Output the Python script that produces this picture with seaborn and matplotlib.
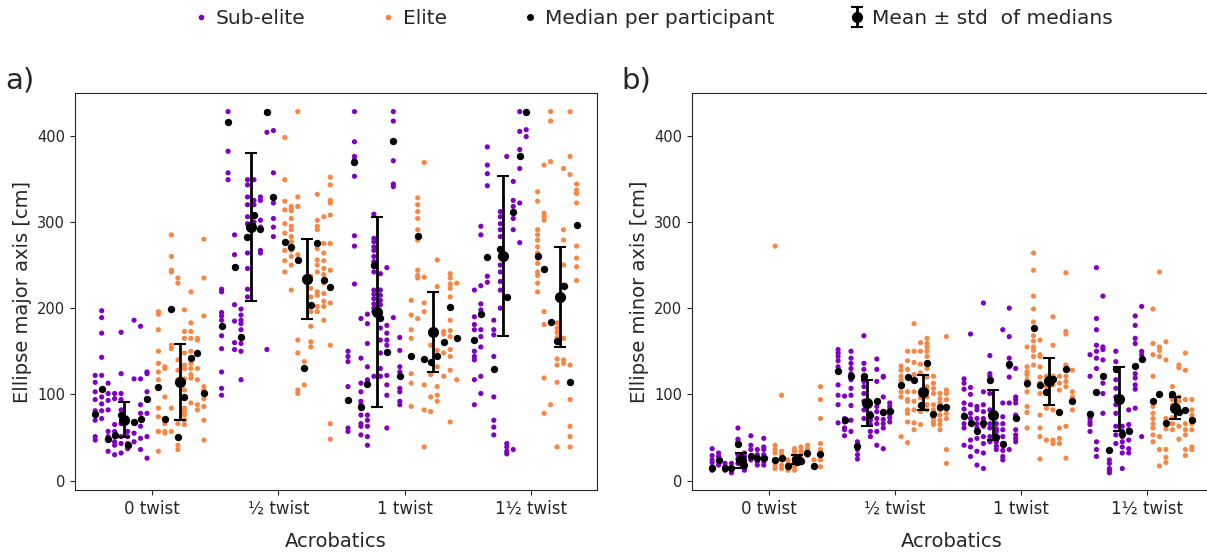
import numpy as np
import pandas as pd
import matplotlib
matplotlib.use("Agg")
import matplotlib.pyplot as plt
from matplotlib.lines import Line2D
import seaborn as sns

# categories
acrobatics = ["0 twist", "\u00bd twist", "1 twist", "1\u00bd twist"]

# ellipse major axis [cm] - trials per participant, per acrobatic
major_sub = [
    [[122, 114, 103, 94, 81, 70, 51, 47], [197, 189, 171, 143, 122, 97, 89, 81, 72],
     [113, 101, 93, 82, 57, 51, 34], [101, 95, 65, 57, 51, 45, 41, 30],
     [172, 124, 101, 94, 82, 76, 66, 51, 43, 32], [57, 51, 43, 37],
     [186, 118, 68, 55, 45], [179, 118, 88, 78, 63, 49, 36], [126, 124, 103, 95, 78, 51, 26]],
    [[222, 219, 195, 191, 186, 168, 153, 126, 107, 99], [428, 382, 357, 349],
     [285, 262, 248, 204, 185, 160, 152], [199, 192, 186, 182, 175, 167, 159, 150, 117],
     [349, 343, 329, 320, 306, 298, 283, 264, 246, 222, 213], [349, 325, 320, 308, 300, 294],
     [329, 325, 302, 294, 267, 264], [428, 404, 152], [406, 357, 329, 322, 304, 294, 283]],
    [[150, 144, 138, 109, 61, 57], [428, 393, 376, 372, 368, 353, 284, 272, 228],
     [188, 142, 113, 103, 92, 88, 76, 66, 63, 53], [193, 182, 159, 132, 117, 76, 70, 63, 51, 41],
     [309, 281, 277, 271, 267, 260, 254, 248, 242, 221, 216, 211, 205, 200, 196, 121],
     [240, 221, 215, 209, 204, 190, 177, 163, 148, 130, 121],
     [247, 180, 171, 163, 157, 149, 122, 111, 99, 61], [428, 417, 371, 344, 341, 189],
     [166, 151, 132, 126, 107, 103, 92, 88]],
    [[221, 190, 181, 175, 150, 144, 140, 117, 88], [295, 285, 226, 205, 198, 175, 167, 155, 121, 101],
     [387, 366, 356, 342, 258, 237, 230], [186, 175, 169, 144, 97, 70, 62, 53],
     [312, 306, 298, 291, 283, 269, 260, 250, 242, 231, 221, 200], [376, 213, 43, 39, 34, 31],
     [347, 325, 318, 304, 291, 36], [428, 405, 384, 376, 362, 322, 276], [428, 407, 399]],
]
major_sub_med = [
    [77, 106, 48, 53, 76, 41, 68, 72, 95],
    [179, 416, 248, 167, 282, 308, 292, 428, 329],
    [94, 369, 85, 112, 250, 189, 149, 394, 121],
    [163, 193, 259, 129, 269, 213, 311, 376, 428],
]
major_elite = [
    [[196, 193, 175, 150, 136, 126, 117, 84, 74, 57, 57, 34], [132, 130, 97, 66, 57, 55],
     [285, 260, 244, 242, 157, 153, 84, 57], [235, 229, 140, 128, 117, 66, 51, 41, 36],
     [198, 173, 165, 148, 134, 130, 118, 105, 84, 80, 76, 70, 65],
     [219, 183, 173, 165, 150, 136, 130, 123, 119, 90], [165, 163, 148, 130, 117, 88, 82],
     [280, 235, 191, 109, 105, 95, 86, 70, 47]],
    [[398, 349, 324, 314, 298, 287, 267, 255, 242],
     [318, 315, 313, 304, 295, 291, 283, 277, 267, 260, 250, 221],
     [428, 329, 318, 262, 163, 148, 105, 101], [138, 111],
     [237, 223, 213, 204, 196, 179, 161, 155],
     [332, 302, 295, 291, 275, 269, 256, 250, 242, 219, 215, 202, 196],
     [306, 275, 264, 255, 246, 239, 229, 217, 208, 202, 186],
     [352, 343, 325, 322, 308, 275, 244, 206, 157, 66, 48]],
    [[209, 192, 175, 165, 144, 124, 113, 86], [328, 320, 312, 304, 291, 279, 244, 238, 235, 188],
     [369, 236, 206, 196, 111, 82, 39], [157, 123, 97, 80], [256, 225, 151, 132, 109, 99, 92],
     [173, 170, 160, 148, 121], [240, 235, 228, 223, 213, 186, 174, 167, 152, 144, 128, 68],
     [229, 117]],
    [[335, 324, 291, 285, 279, 271, 264, 258, 252, 242, 238, 229, 219],
     [366, 310, 306, 302, 246, 196, 181, 119, 78], [428, 417, 370, 88],
     [183, 177, 172, 166, 141, 134, 114, 39], [362, 291, 279, 250, 227, 165, 140, 136],
     [428, 376, 355, 134, 94, 63, 51, 39], [344, 337, 333, 322, 272, 258, 248, 232]],
]
major_elite_med = [
    [108, 71, 199, 51, 97, 142, 148, 102],
    [277, 271, 256, 131, 204, 276, 233, 225],
    [144, 284, 141, 137, 145, 161, 201, 165],
    [261, 246, 184, 162, 226, 114, 297],
]

# ellipse minor axis [cm]
minor_sub = [
    [[37, 29, 24, 21, 16, 12], [32, 28, 22, 18], [20, 16, 12], [20, 12, 9],
     [61, 48, 45, 30, 25, 20], [32, 28, 20, 12], [52, 41, 36, 24], [36, 30, 22, 18],
     [49, 39, 36, 30, 22, 18]],
    [[152, 148, 144, 139, 132, 111, 99, 88, 67], [98, 72, 68, 61, 59, 52],
     [150, 142, 136, 130, 124, 117, 107, 99, 87, 70, 57], [45, 41, 36, 30, 25],
     [168, 136, 129, 119, 115, 109, 101, 92, 82, 72], [78, 70, 65, 57, 51],
     [141, 129, 115, 86, 80, 72, 66, 57, 41], [121, 120, 97, 71, 66, 61, 37],
     [90, 86, 82, 77, 73, 68]],
    [[118, 113, 106, 90, 83, 76, 66, 61, 41], [170, 108, 100, 88, 78, 72, 47, 39, 28],
     [86, 82, 72, 66, 61, 49, 34, 18], [206, 103, 88, 80, 72, 63, 51, 43, 32, 14],
     [145, 124, 121, 115, 101, 82, 66, 61, 51, 45], [66, 60, 57, 51, 45, 40, 36],
     [175, 90, 74, 66, 59, 51, 43, 35, 28, 24], [200, 167, 142, 132, 120, 90, 36],
     [130, 97, 94, 90, 76, 73, 59, 53, 49, 45]],
    [[146, 121, 78, 72, 68, 65, 57], [247, 188, 175, 157, 150, 142, 130, 45, 36, 28],
     [214, 155, 152, 140, 113, 101, 78], [24, 20, 14, 12, 9],
     [150, 138, 128, 117, 107, 97, 88, 78, 63, 53, 43], [63, 57, 51, 45, 39, 32, 14],
     [82, 65, 59, 47, 37, 32], [191, 180, 165, 159, 124, 119, 111, 106, 84], [202, 150, 146, 51]],
]
minor_sub_med = [
    [15, 24, 15, 15, 43, 18, 28, 26, 26],
    [127, 70, 121, 40, 121, 76, 92, 80, 81],
    [75, 67, 58, 67, 117, 51, 42, 135, 73],
    [77, 103, 121, 36, 129, 54, 57, 133, 141],
]
minor_elite = [
    [[272, 41, 36, 32, 24, 18, 14], [99, 34, 30, 24, 18, 14], [24, 20, 16, 12],
     [37, 34, 30, 26, 22, 16, 12], [39, 34, 30, 26, 21], [41, 37, 34, 29], [24, 16],
     [109, 94, 72, 43, 36, 30, 24, 16]],
    [[133, 128, 121, 116, 109, 103, 97, 51], [150, 139, 129, 103, 94, 92, 82, 78, 68, 44],
     [182, 150, 137, 123, 103, 92, 82, 67, 59], [160, 150, 135, 125, 103, 96, 80, 65],
     [165, 159, 155, 150, 144, 130, 120, 109, 105, 97, 88, 82],
     [121, 113, 107, 101, 88, 82, 77, 72, 68, 65], [101, 95, 90, 82, 76, 70, 65, 59],
     [167, 105, 101, 94, 86, 78, 72, 36, 20]],
    [[155, 132, 126, 123, 117, 110, 103, 86, 79, 61],
     [264, 244, 214, 199, 184, 177, 168, 162, 155, 151, 144, 134],
     [163, 146, 144, 132, 120, 113, 109, 101, 76, 61, 51, 25], [121, 115, 109, 103, 84, 47],
     [190, 157, 121, 118, 111, 82, 47, 43], [121, 113, 105, 80, 61, 49, 43],
     [241, 173, 170, 134, 121, 115, 109, 63, 26], [128, 103, 97, 82]],
    [[199, 159, 146, 121, 86, 78, 72, 66, 61, 53, 45], [242, 155, 151, 144, 51, 36, 17],
     [161, 140, 72, 60, 36, 27, 21], [109, 101, 94, 87, 73, 66, 59],
     [134, 131, 97, 92, 82, 63, 48], [148, 128, 94, 66, 59, 53, 36, 29],
     [94, 82, 76, 72, 66, 59, 39, 36]],
]
minor_elite_med = [
    [24, 26, 17, 25, 23, 32, 17, 31],
    [111, 120, 117, 88, 136, 77, 85, 85],
    [113, 177, 111, 103, 118, 80, 129, 92],
    [92, 101, 67, 101, 79, 82, 70],
]

colors = {"Sub-elite": "#7F00C4", "Elite": "#FA8644"}
# x offsets of the participants around each tick
slots = {"Sub-elite": np.linspace(-0.45, -0.04, 9), "Elite": np.linspace(0.05, 0.41, 8)}
mean_off = {"Sub-elite": -0.22, "Elite": 0.225}


def build(trials_by_group, med_by_group):
    rows, meds = [], []
    for group, trials, medians in zip(["Sub-elite", "Elite"], trials_by_group, med_by_group):
        for k in range(len(acrobatics)):
            for p, vals in enumerate(trials[k]):
                for v in vals:
                    rows.append((group, k, k + slots[group][p], v))
            for p, m in enumerate(medians[k]):
                meds.append((group, k, k + slots[group][p], m))
    cols = ["group", "acro", "x", "value"]
    return pd.DataFrame(rows, columns=cols), pd.DataFrame(meds, columns=cols)


sns.set_style("ticks")
plt.rcParams["font.family"] = ["DejaVu Sans"]

fig = plt.figure(figsize=(12.07, 5.55), dpi=100)
ax_a = fig.add_axes([0.0621, 0.117, 0.4325, 0.7153])
ax_b = fig.add_axes([0.5733, 0.117, 0.431, 0.7153])

panels = [
    (ax_a, (major_sub, major_elite), (major_sub_med, major_elite_med), "Ellipse major axis [cm]"),
    (ax_b, (minor_sub, minor_elite), (minor_sub_med, minor_elite_med), "Ellipse minor axis [cm]"),
]

err_handle = None
for ax, trials, meds, ylabel in panels:
    df, dmed = build(trials, meds)
    sns.scatterplot(data=df, x="x", y="value", hue="group", palette=colors, s=14,
                    linewidth=0, legend=False, ax=ax, zorder=2)
    sns.scatterplot(data=dmed, x="x", y="value", color="black", s=28,
                    linewidth=0, legend=False, ax=ax, zorder=3)
    for (group, k), sub in dmed.groupby(["group", "acro"]):
        m, sd = sub["value"].mean(), sub["value"].std(ddof=0)
        err_handle = ax.errorbar(k + mean_off[group], m, yerr=sd, fmt="o", color="black",
                                 markersize=7, elinewidth=2, capsize=4, capthick=1.5, zorder=4)
    ax.set_xlim(-0.61, 3.52)
    ax.set_ylim(-11, 449.5)
    ax.set_xticks(range(len(acrobatics)))
    ax.set_xticklabels(acrobatics, fontsize=12)
    ax.set_yticks([0, 100, 200, 300, 400])
    ax.tick_params(axis="y", labelsize=10.5)
    ax.set_xlabel("Acrobatics", fontsize=14, labelpad=10)
    ax.set_ylabel(ylabel, fontsize=14)

fig.text(0.004, 0.841, "a)", fontsize=21, va="baseline")
fig.text(0.515, 0.841, "b)", fontsize=21, va="baseline")

handles = [
    Line2D([], [], ls="", marker="o", color=colors["Sub-elite"], markersize=3),
    Line2D([], [], ls="", marker="o", color=colors["Elite"], markersize=3),
    Line2D([], [], ls="", marker="o", color="black", markersize=4),
    err_handle,
]
labels = ["Sub-elite", "Elite", "Median per participant", "Mean \u00b1 std  of medians"]
fig.legend(handles, labels, loc="center", bbox_to_anchor=(0.541, 0.967), ncol=4,
           frameon=False, fontsize=14.5, handlelength=0.8, handletextpad=0.35, columnspacing=3.7)

fig.savefig("out.png", dpi=100)
